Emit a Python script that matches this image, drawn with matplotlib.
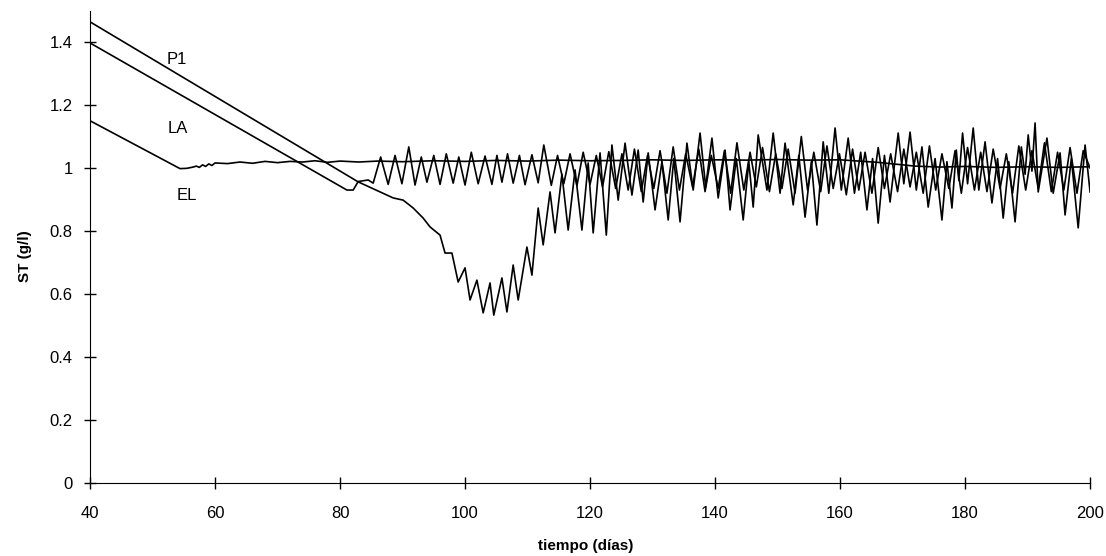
import matplotlib.pyplot as plt
import numpy as np

plt.rcParams["font.family"] = ["Liberation Sans", "DejaVu Sans"]

# (día, ST)
p1 = [
    (40.0, 1.464), (82.9, 0.956), (88.5, 0.905), (90.1, 0.898), (91.7, 0.873),
    (93.3, 0.841), (94.4, 0.813), (96.0, 0.787), (96.8, 0.730), (97.9, 0.730),
    (98.9, 0.638), (100.0, 0.683), (100.8, 0.581), (101.9, 0.644), (102.9, 0.540),
    (104.0, 0.635), (104.6, 0.533), (105.9, 0.651), (106.7, 0.543), (107.7, 0.692),
    (108.5, 0.581), (109.9, 0.749), (110.7, 0.660), (111.7, 0.873), (112.5, 0.756),
    (113.6, 0.924), (114.4, 0.794), (115.5, 0.980), (116.5, 0.803), (117.6, 0.994),
    (118.7, 0.803), (119.7, 1.016), (120.5, 0.794), (121.6, 1.048), (122.6, 0.787),
    (123.5, 1.073), (124.5, 0.898), (125.6, 1.079), (126.7, 0.914), (127.7, 1.057),
    (128.5, 0.892), (129.3, 1.048), (130.4, 0.867), (131.5, 1.020), (132.5, 0.835),
    (133.4, 1.030), (134.4, 0.829), (135.5, 1.079), (136.5, 0.930), (137.6, 1.111),
    (138.5, 0.940), (139.5, 1.095), (140.5, 0.905), (141.6, 1.057), (142.4, 0.867),
    (143.4, 1.030), (144.5, 0.835), (145.4, 1.020), (146.1, 0.876), (146.9, 1.105),
    (148.3, 0.930), (149.3, 1.111), (150.4, 0.920), (151.2, 1.079), (152.5, 0.883),
    (153.4, 1.040), (154.4, 0.844), (155.4, 1.020), (156.3, 0.819), (157.3, 1.083),
    (158.2, 0.920), (159.2, 1.127), (160.2, 0.930), (161.3, 1.095), (162.3, 0.920),
    (163.3, 1.050), (164.3, 0.867), (165.2, 1.030), (166.1, 0.825), (167.1, 1.040),
    (168.0, 0.892), (169.3, 1.111), (170.2, 0.950), (171.2, 1.114), (172.2, 0.930),
    (173.1, 1.067), (174.1, 0.876), (175.2, 1.030), (176.3, 0.835), (177.1, 1.020),
    (177.9, 0.873), (178.6, 1.057), (179.0, 0.960), (179.6, 1.111), (180.4, 0.950),
    (181.3, 1.127), (182.2, 0.930), (183.2, 1.083), (184.3, 0.889), (185.2, 1.030),
    (186.1, 0.841), (187.0, 1.020), (188.0, 0.829), (189.0, 1.067), (189.6, 0.980),
    (190.1, 1.105), (190.7, 0.990), (191.2, 1.143), (191.7, 0.924), (193.1, 1.095),
    (194.1, 0.920), (195.2, 1.048), (196.0, 0.851), (197.0, 1.030), (198.1, 0.810),
    (199.2, 1.073), (200.0, 0.924),
]

la = [
    (40.0, 1.397), (81.1, 0.930), (82.1, 0.930), (82.9, 0.957), (84.5, 0.962),
    (85.3, 0.952), (86.5, 1.035), (87.7, 0.948), (88.8, 1.040), (89.9, 0.950),
    (91.0, 1.067), (92.0, 0.946), (93.0, 1.035), (93.9, 0.955), (95.0, 1.040),
    (96.0, 0.948), (97.0, 1.045), (98.1, 0.952), (99.0, 1.035), (100.0, 0.946),
    (101.0, 1.050), (102.1, 0.950), (103.2, 1.038), (104.3, 0.948), (105.1, 1.040),
    (105.9, 0.955), (106.8, 1.045), (107.7, 0.952), (108.7, 1.040), (109.6, 0.947),
    (110.7, 1.042), (111.7, 0.953), (112.6, 1.073), (113.8, 0.945), (114.8, 1.040),
    (115.8, 0.950), (116.8, 1.045), (117.9, 0.944), (118.9, 1.050), (120.0, 0.948),
    (121.0, 1.040), (122.0, 0.940), (123.0, 1.052), (124.1, 0.935), (125.1, 1.045),
    (126.1, 0.930), (127.1, 1.060), (128.2, 0.925), (129.2, 1.040), (130.2, 0.935),
    (131.2, 1.055), (132.3, 0.920), (133.3, 1.067), (134.3, 0.930), (135.3, 1.045),
    (136.4, 0.940), (137.4, 1.060), (138.4, 0.925), (139.4, 1.040), (140.5, 0.935),
    (141.5, 1.055), (142.5, 0.920), (143.5, 1.080), (144.6, 0.930), (145.6, 1.050),
    (146.6, 0.940), (147.6, 1.065), (148.7, 0.925), (149.7, 1.045), (150.7, 0.935),
    (151.7, 1.060), (152.8, 0.920), (153.8, 1.100), (154.8, 0.930), (155.8, 1.050),
    (156.9, 0.925), (157.9, 1.070), (158.9, 0.935), (159.9, 1.045), (161.0, 0.915),
    (162.0, 1.060), (163.0, 0.930), (164.0, 1.050), (165.1, 0.920), (166.1, 1.065),
    (167.1, 0.935), (168.1, 1.045), (169.2, 0.925), (170.2, 1.060), (171.2, 0.940),
    (172.2, 1.050), (173.3, 0.920), (174.3, 1.070), (175.3, 0.930), (176.3, 1.045),
    (177.4, 0.935), (178.4, 1.055), (179.4, 0.920), (180.4, 1.065), (181.5, 0.930),
    (182.5, 1.050), (183.5, 0.925), (184.5, 1.060), (185.6, 0.935), (186.6, 1.045),
    (187.6, 0.920), (188.6, 1.070), (189.7, 0.930), (190.7, 1.055), (191.7, 0.935),
    (192.7, 1.080), (193.8, 0.925), (194.8, 1.050), (195.8, 0.930), (196.8, 1.065),
    (197.9, 0.920), (198.9, 1.055), (200.0, 1.000),
]

el = [
    (40.0, 1.150), (54.4, 0.998), (55.5, 0.999), (56.5, 1.003), (57.0, 1.006),
    (57.5, 1.002), (58.0, 1.010), (58.5, 1.005), (59.0, 1.013), (59.5, 1.008),
    (60.0, 1.016), (62.0, 1.014), (64.0, 1.019), (66.0, 1.015), (68.0, 1.021),
    (70.0, 1.017), (72.0, 1.021), (74.0, 1.019), (76.0, 1.023), (78.0, 1.018),
    (80.0, 1.022), (83.0, 1.019), (86.0, 1.022), (90.0, 1.020), (95.0, 1.023),
    (100.0, 1.021), (105.0, 1.024), (110.0, 1.022), (115.0, 1.025), (120.0, 1.023),
    (125.0, 1.024), (130.0, 1.026), (135.0, 1.024), (140.0, 1.026), (145.0, 1.025),
    (150.0, 1.027), (155.0, 1.025), (160.0, 1.026), (163.0, 1.022), (166.0, 1.018),
    (169.0, 1.012), (172.0, 1.006), (176.0, 1.003), (180.0, 1.005), (185.0, 1.002),
    (190.0, 1.004), (195.0, 1.002), (200.0, 1.004),
]

etiquetas = ["P1", "LA", "EL"]
etiqueta_x = [53.9, 54.1, 55.5]
etiqueta_y = [1.343, 1.127, 0.914]

x_ticks = [40, 60, 80, 100, 120, 140, 160, 180, 200]
y_ticks = [0, 0.2, 0.4, 0.6, 0.8, 1.0, 1.2, 1.4]
y_labels = ["0", "0.2", "0.4", "0.6", "0.8", "1", "1.2", "1.4"]

fig = plt.figure(figsize=(11.06, 5.56), dpi=100)
ax = fig.add_axes([0.0814, 0.1313, 0.9042, 0.8498])

for serie in (el, la, p1):
    d, v = np.array(serie).T
    ax.plot(d, v, color="black", linewidth=1.2)

for txt, x, y in zip(etiquetas, etiqueta_x, etiqueta_y):
    ax.text(x, y, txt, ha="center", va="center", fontsize=12)

ax.set_xlim(40, 200)
ax.set_ylim(0, 1.5)
ax.spines[["top", "right"]].set_visible(False)
ax.set_xticks(x_ticks)
ax.set_yticks(y_ticks, labels=y_labels)
ax.tick_params(direction="inout", length=9, width=1, labelsize=12)
ax.tick_params(axis="x", pad=12)
ax.tick_params(axis="y", pad=8)

ax.set_xlabel("tiempo (días)", fontweight="bold", fontsize=11)
ax.xaxis.set_label_coords(0.496, -0.118)
ax.set_ylabel("ST (g/l)", fontweight="bold", fontsize=11)
ax.yaxis.set_label_coords(-0.058, 0.48)

fig.savefig("out.png", dpi=100)
